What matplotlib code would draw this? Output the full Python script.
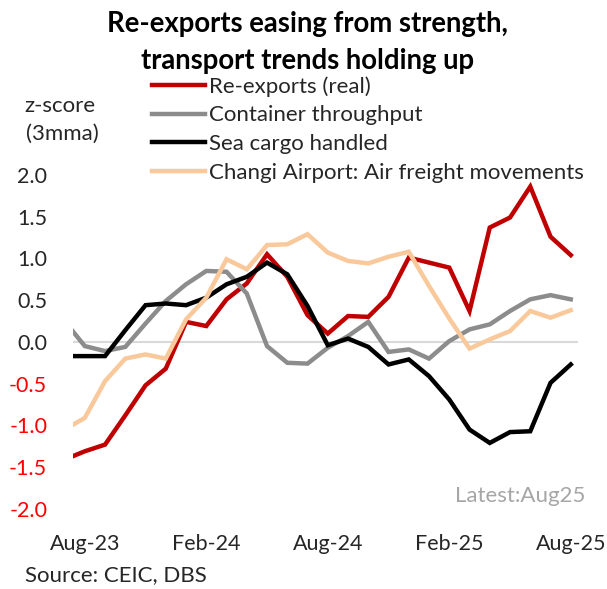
import numpy as np
import matplotlib
matplotlib.use("Agg")
from matplotlib import pyplot as plt

plt.rcParams["font.family"] = ["Lato", "DejaVu Sans"]

# monthly, Jul-23 .. Aug-25 (Jul-23 is clipped by the axis)
months = ["Jul-23", "Aug-23", "Sep-23", "Oct-23", "Nov-23", "Dec-23", "Jan-24",
          "Feb-24", "Mar-24", "Apr-24", "May-24", "Jun-24", "Jul-24", "Aug-24",
          "Sep-24", "Oct-24", "Nov-24", "Dec-24", "Jan-25", "Feb-25", "Mar-25",
          "Apr-25", "May-25", "Jun-25", "Jul-25", "Aug-25"]

reexports = [-1.41, -1.31, -1.23, -0.88, -0.52, -0.32, 0.24, 0.19, 0.51, 0.70,
             1.05, 0.78, 0.32, 0.10, 0.31, 0.30, 0.54, 1.01, 0.95, 0.89,
             0.37, 1.37, 1.49, 1.86, 1.26, 1.04]
container = [0.25, -0.05, -0.11, -0.06, 0.22, 0.49, 0.69, 0.85, 0.84, 0.58,
             -0.05, -0.25, -0.26, -0.07, 0.07, 0.24, -0.12, -0.09, -0.20, 0.01,
             0.15, 0.21, 0.37, 0.51, 0.56, 0.51]
sea_cargo = [-0.17, -0.17, -0.17, 0.14, 0.44, 0.46, 0.44, 0.53, 0.69, 0.78,
             0.95, 0.81, 0.43, -0.04, 0.04, -0.06, -0.27, -0.21, -0.41, -0.69,
             -1.05, -1.21, -1.08, -1.07, -0.49, -0.27]
air_freight = [-1.05, -0.91, -0.47, -0.20, -0.15, -0.20, 0.27, 0.53, 0.99, 0.87,
               1.16, 1.17, 1.29, 1.07, 0.97, 0.94, 1.02, 1.08, 0.67, 0.28,
               -0.08, 0.03, 0.13, 0.37, 0.29, 0.38]

labels = ["Re-exports (real)", "Container throughput", "Sea cargo handled",
          "Changi Airport: Air freight movements"]
colors = ["#C00000", "#8C8C8C", "#000000", "#F9C99B"]
xtick_labels = ["Aug-23", "Feb-24", "Aug-24", "Feb-25", "Aug-25"]

x = np.arange(len(months))

fig = plt.figure(figsize=(6.07, 5.89), dpi=100)
ax = fig.add_axes([0.120, 0.136, 0.832, 0.567])

ax.axhline(0, color="#D9D9D9", linewidth=1.5, zorder=1)
lines = []
for y, c, lab in zip([reexports, container, sea_cargo, air_freight], colors, labels):
    ln, = ax.plot(x, y, color=c, linewidth=3.2, label=lab, zorder=2,
                  solid_joinstyle="miter")
    lines.append(ln)

ax.set_xlim(0.41, 25.35)
ax.set_ylim(-2.0, 2.0)
yt = np.arange(-2.0, 2.01, 0.5)
ax.set_yticks(yt)
ax.set_yticklabels([f"{v:.1f}" for v in yt])
for t, v in zip(ax.get_yticklabels(), yt):
    t.set_color("#FF0000" if v < 0 else "#262626")
ax.set_xticks([months.index(m) for m in xtick_labels])
ax.set_xticklabels(xtick_labels)
ax.tick_params(axis="both", length=0, labelsize=15.5)
ax.tick_params(axis="x", pad=18, colors="#262626")
ax.tick_params(axis="y", pad=18.5)
for s in ax.spines.values():
    s.set_visible(False)

leg = ax.legend(handles=lines, loc="upper left", bbox_to_anchor=(0.156, 1.296),
                frameon=False, fontsize=16, handlelength=2.39, handletextpad=0.2,
                labelspacing=0.39, borderaxespad=0, borderpad=0)
for t in leg.get_texts():
    t.set_color("#262626")

fig.text(0.507, 0.945, "Re-exports easing from strength,", ha="center", va="baseline",
         fontsize=19.8, fontweight="bold", color="#000000")
fig.text(0.507, 0.883, "transport trends holding up", ha="center", va="baseline",
         fontsize=19.8, fontweight="bold", color="#000000")
fig.text(0.099, 0.810, "z-score", ha="center", va="baseline", fontsize=16, color="#262626")
fig.text(0.102, 0.762, "(3mma)", ha="center", va="baseline", fontsize=16, color="#262626")
fig.text(0.964, 0.148, "Latest:Aug25", ha="right", va="baseline", fontsize=16,
         color="#A6A6A6")
fig.text(0.041, 0.014, "Source: CEIC, DBS", ha="left", va="baseline", fontsize=16,
         color="#262626")

fig.savefig("out.png", dpi=100)
